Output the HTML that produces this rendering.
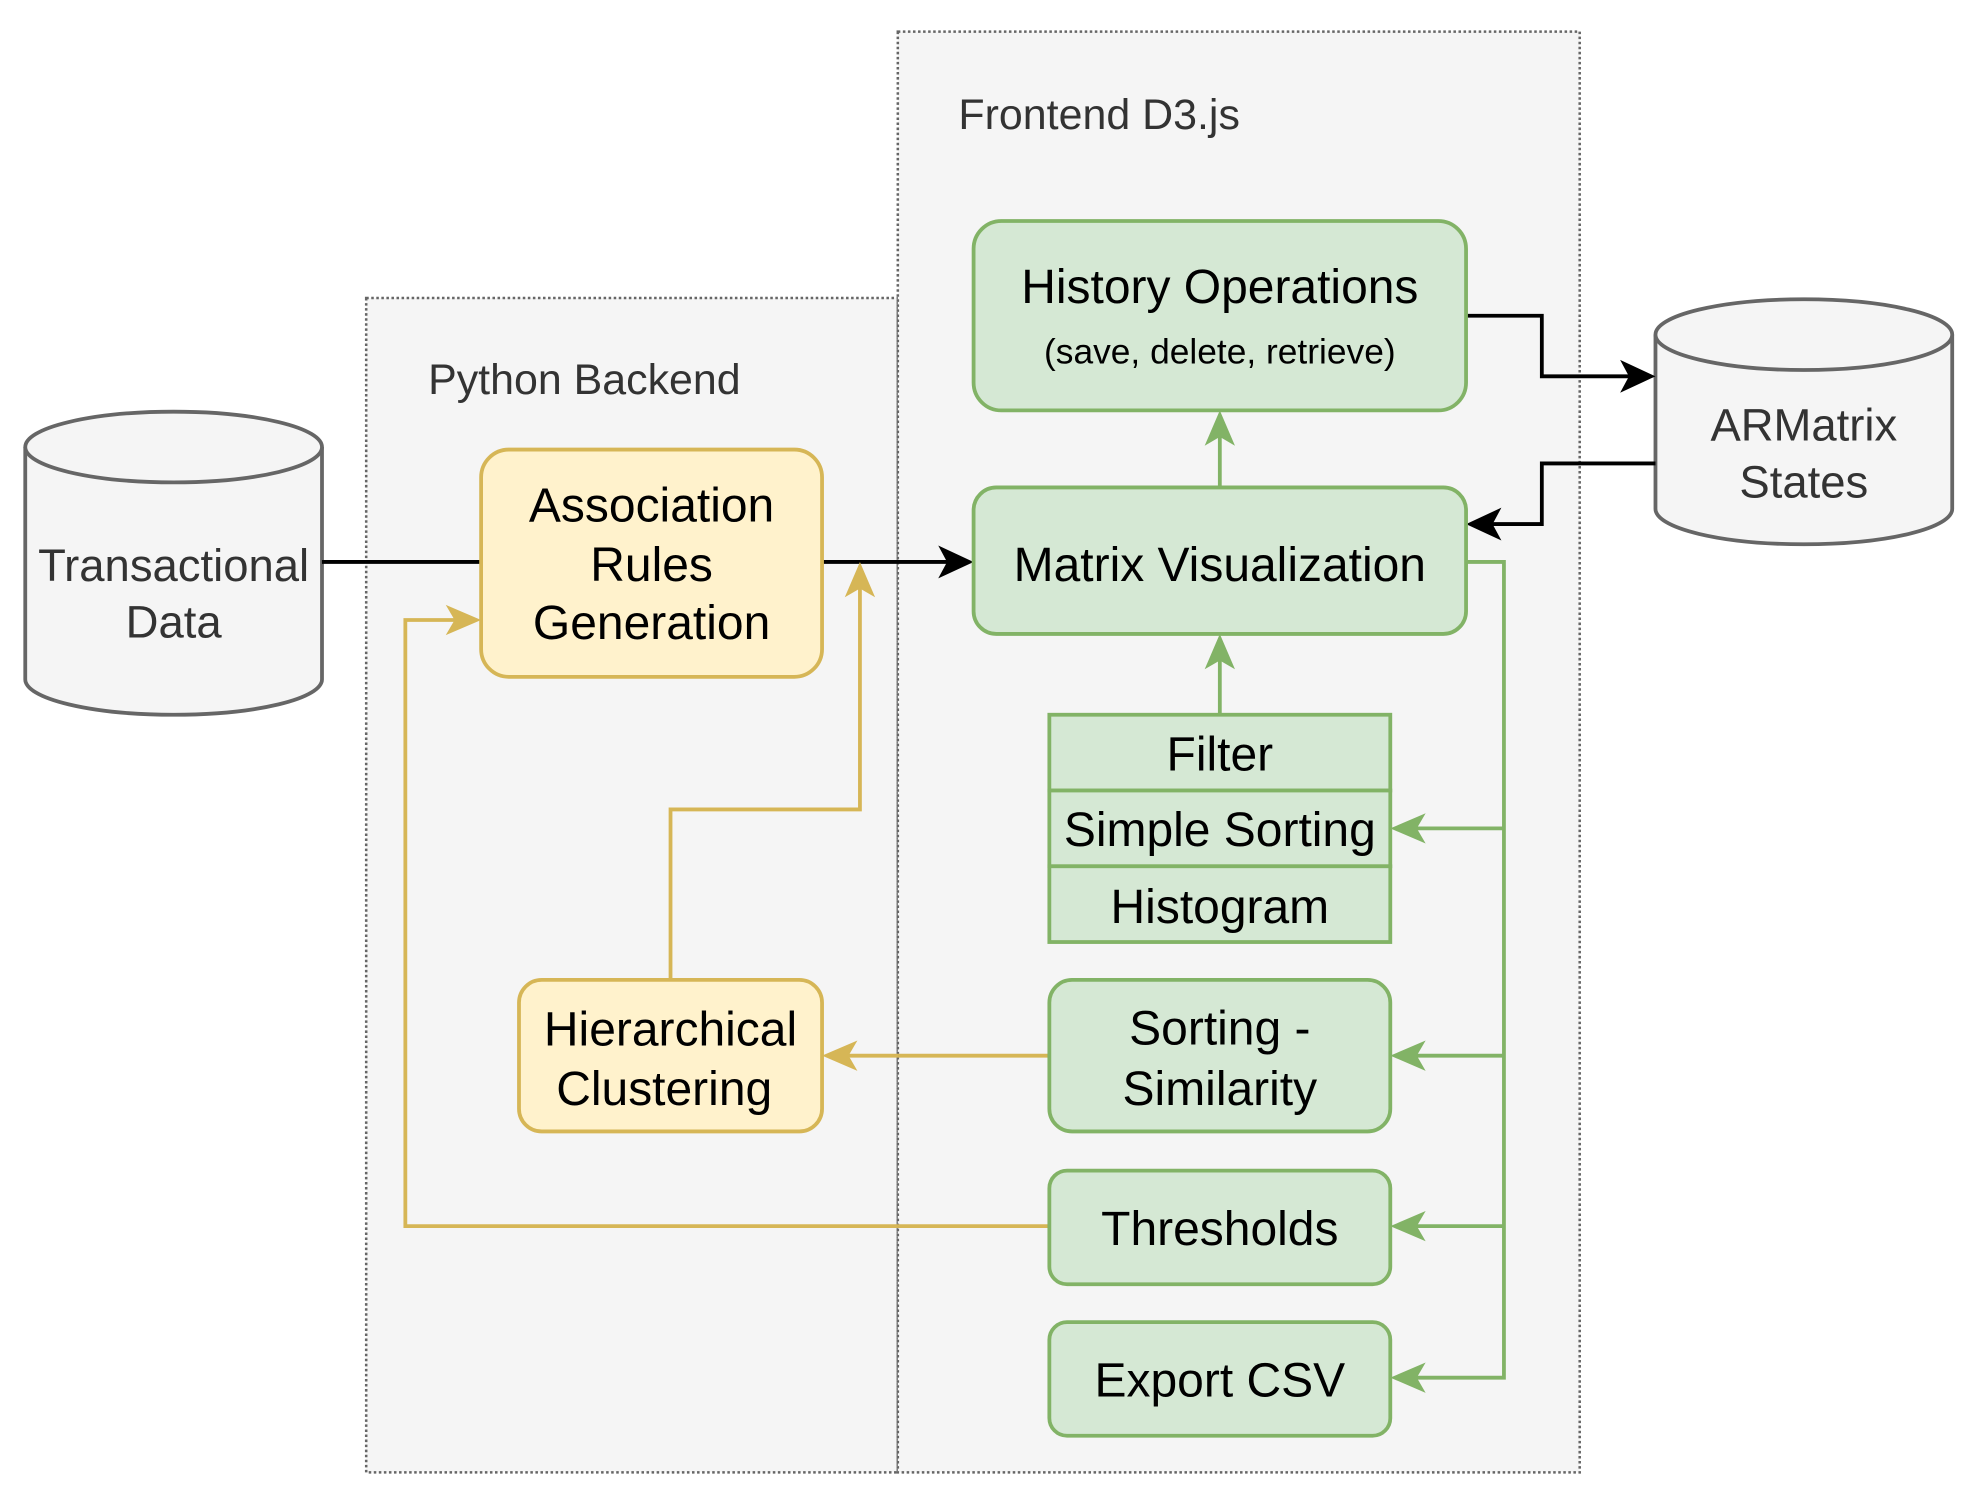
<!DOCTYPE html>
<html><head><meta charset="utf-8"><style>
html,body{margin:0;padding:0;background:#fff;}
svg{display:block;}
text{font-family:"Liberation Sans",Arial,sans-serif;}
</style></head><body>
<svg width="1980" height="1506" viewBox="0 0 1568 1192.6" xmlns="http://www.w3.org/2000/svg">
<rect width="1568" height="1193" fill="#fff"/>
<!-- containers -->
<rect x="290" y="236" width="421" height="930" fill="#f5f5f5" stroke="#666" stroke-width="2" stroke-dasharray="2,2"/>
<rect x="711" y="25" width="540" height="1141" fill="#f5f5f5" stroke="#666" stroke-width="2" stroke-dasharray="2,2"/>
<text x="339" y="312" font-size="34" fill="#333">Python Backend</text>
<text x="759" y="102" font-size="34" fill="#333">Frontend D3.js</text>

<!-- cylinders -->
<g fill="#f5f5f5" stroke="#666" stroke-width="3">
<path d="M20,354 L20,538 A117.5,28 0 0 0 255,538 L255,354"/>
<ellipse cx="137.5" cy="354" rx="117.5" ry="28"/>
<path d="M1311,265 L1311,403 A117.5,28 0 0 0 1546,403 L1546,265"/>
<ellipse cx="1428.5" cy="265" rx="117.5" ry="28"/>
</g>
<text x="137.5" y="460" font-size="36" fill="#333" text-anchor="middle">Transactional</text>
<text x="137.5" y="505" font-size="36" fill="#333" text-anchor="middle">Data</text>
<text x="1428.5" y="349" font-size="36" fill="#333" text-anchor="middle">ARMatrix</text>
<text x="1428.5" y="394" font-size="36" fill="#333" text-anchor="middle">States</text>

<!-- connectors -->
<g fill="none" stroke-width="3">
<path d="M255,445 L381,445" stroke="#000"/>
<path d="M651,445 L755,445" stroke="#000"/>
<path d="M1161,250 L1221,250 L1221,298 L1295,298" stroke="#000"/>
<path d="M1311,367 L1221,367 L1221,415 L1177,415" stroke="#000"/>
<path d="M1161,445 L1191,445 L1191,1091 L1120,1091 M1191,656 L1120,656 M1191,836 L1120,836 M1191,971 L1120,971" stroke="#82b366"/>
<path d="M966,566 L966,520 M966,386 L966,343" stroke="#82b366"/>
<path d="M831,836 L670,836 M531,776 L531,641 L681,641 L681,465 M831,971 L321,971 L321,491 L362,491" stroke="#d6b656"/>
</g>
<g fill="#82b366">
<path d="M1101,656 L1129,644 L1122,656 L1129,668 Z"/>
<path d="M1101,836 L1129,824 L1122,836 L1129,848 Z"/>
<path d="M1101,971 L1129,959 L1122,971 L1129,983 Z"/>
<path d="M1101,1091 L1129,1079 L1122,1091 L1129,1103 Z"/>
<path d="M966,502 L954,530 L966,523 L978,530 Z"/>
<path d="M966,325 L954,353 L966,346 L978,353 Z"/>
</g>
<g fill="#d6b656">
<path d="M651,836 L679,824 L672,836 L679,848 Z"/>
<path d="M681,445 L669,473 L681,466 L693,473 Z"/>
<path d="M381,491 L353,479 L360,491 L353,503 Z"/>
</g>
<g fill="#000">
<path d="M771,445 L743,432 L750,445 L743,458 Z"/>
<path d="M1311,298 L1283,285 L1290,298 L1283,311 Z"/>
<path d="M1161,415 L1189,402 L1182,415 L1189,428 Z"/>
</g>

<!-- yellow boxes -->
<g fill="#fff2cc" stroke="#d6b656" stroke-width="3">
<rect x="381" y="356" width="270" height="180" rx="22"/>
<rect x="411" y="776" width="240" height="120" rx="18"/>
</g>
<g font-size="38" fill="#000" text-anchor="middle">
<text x="516" y="413">Association</text>
<text x="516" y="460">Rules</text>
<text x="516" y="506">Generation</text>
<text x="531" y="828">Hierarchical</text>
<text x="526" y="875">Clustering</text>
</g>

<!-- green boxes -->
<g fill="#d5e8d4" stroke="#82b366" stroke-width="3">
<rect x="771" y="175" width="390" height="150" rx="22"/>
<rect x="771" y="386" width="390" height="116" rx="18"/>
<rect x="831" y="566" width="270" height="60"/>
<rect x="831" y="626" width="270" height="60"/>
<rect x="831" y="686" width="270" height="60"/>
<rect x="831" y="776" width="270" height="120" rx="18"/>
<rect x="831" y="927" width="270" height="90" rx="14"/>
<rect x="831" y="1047" width="270" height="90" rx="14"/>
</g>
<g font-size="38" fill="#000" text-anchor="middle">
<text x="966" y="240">History Operations</text>
<text x="966" y="288" font-size="28">(save, delete, retrieve)</text>
<text x="966" y="460">Matrix Visualization</text>
<text x="966" y="610">Filter</text>
<text x="966" y="670">Simple Sorting</text>
<text x="966" y="731">Histogram</text>
<text x="966" y="827">Sorting -</text>
<text x="966" y="875">Similarity</text>
<text x="966" y="986">Thresholds</text>
<text x="966" y="1106">Export CSV</text>
</g>
</svg>
</body></html>
